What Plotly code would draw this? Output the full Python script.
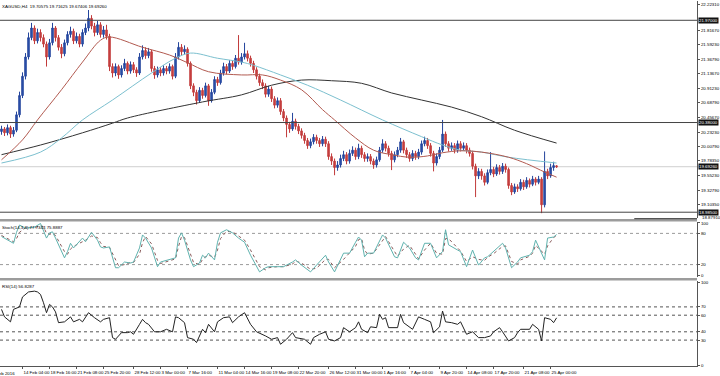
import plotly.graph_objects as go

title_text = "XAGUSD,H4  19.70575 19.71625 19.67406 19.69260"
stoch_title = "Stoch(14,3,3) 77.7344 75.8887"
rsi_title = "RSI(14) 56.8287"

bar_idx = list(range(186))
open_ = [20.24,20.28,20.22,20.30,20.20,20.26,20.50,20.80,21.10,21.40,21.70,21.85,21.65,21.78,21.70,21.60,21.40,21.62,21.85,21.70,
 21.55,21.45,21.62,21.75,21.80,21.65,21.72,21.60,21.78,21.85,22.00,21.88,21.78,21.90,21.75,21.82,21.72,21.25,21.15,21.25,
 21.12,21.22,21.30,21.18,21.28,21.20,21.15,21.40,21.50,21.42,21.48,21.22,21.12,21.20,21.15,21.22,21.18,21.25,21.10,21.40,
 21.55,21.48,21.52,21.30,20.95,20.85,20.72,20.88,20.80,20.95,20.72,20.85,21.05,21.00,21.15,21.25,21.18,21.30,21.25,21.38,
 21.32,21.40,21.45,21.38,21.30,21.20,21.10,21.00,20.95,20.82,20.90,20.75,20.65,20.72,20.55,20.45,20.35,20.28,20.40,20.32,
 20.25,20.18,20.10,20.02,20.08,20.15,20.10,20.05,20.12,20.05,19.85,19.78,19.68,19.72,19.82,19.88,19.78,19.90,19.95,19.85,
 19.98,19.88,19.82,19.85,19.78,19.72,19.80,19.95,20.05,19.98,19.90,19.80,19.88,19.95,20.08,19.95,19.88,19.82,19.90,19.85,
 19.92,20.05,20.10,20.02,19.90,19.75,19.85,19.95,20.20,20.05,19.98,20.02,19.95,20.05,19.98,20.02,19.95,19.90,19.70,19.55,
 19.62,19.55,19.45,19.60,19.65,19.58,19.68,19.62,19.70,19.65,19.40,19.30,19.38,19.35,19.45,19.38,19.48,19.42,19.50,19.45,
 19.50,19.10,19.62,19.55,19.68,19.70575]
close = [20.28,20.22,20.30,20.20,20.26,20.50,20.80,21.10,21.40,21.70,21.85,21.65,21.78,21.70,21.60,21.40,21.62,21.85,21.70,21.55,
 21.45,21.62,21.75,21.80,21.65,21.72,21.60,21.78,21.85,22.00,21.88,21.78,21.90,21.75,21.82,21.72,21.25,21.15,21.25,21.12,
 21.22,21.30,21.18,21.28,21.20,21.15,21.40,21.50,21.42,21.48,21.22,21.12,21.20,21.15,21.22,21.18,21.25,21.10,21.40,21.55,
 21.48,21.52,21.30,20.95,20.85,20.72,20.88,20.80,20.95,20.72,20.85,21.05,21.00,21.15,21.25,21.18,21.30,21.25,21.38,21.32,
 21.40,21.45,21.38,21.30,21.20,21.10,21.00,20.95,20.82,20.90,20.75,20.65,20.72,20.55,20.45,20.35,20.28,20.40,20.32,20.25,
 20.18,20.10,20.02,20.08,20.15,20.10,20.05,20.12,20.05,19.85,19.78,19.68,19.72,19.82,19.88,19.78,19.90,19.95,19.85,19.98,
 19.88,19.82,19.85,19.78,19.72,19.80,19.95,20.05,19.98,19.90,19.80,19.88,19.95,20.08,19.95,19.88,19.82,19.90,19.85,19.92,
 20.05,20.10,20.02,19.90,19.75,19.85,19.95,20.20,20.05,19.98,20.02,19.95,20.05,19.98,20.02,19.95,19.90,19.70,19.55,19.62,
 19.55,19.45,19.60,19.65,19.58,19.68,19.62,19.70,19.65,19.40,19.30,19.38,19.35,19.45,19.38,19.48,19.42,19.50,19.45,19.50,
 19.10,19.62,19.55,19.68,19.71,19.6926]
high = [20.33,20.31,20.35,20.33,20.31,20.55,20.86,21.16,21.46,21.78,21.93,21.89,21.84,21.83,21.75,21.64,21.68,21.93,21.88,21.74,
 21.60,21.67,21.80,21.87,21.84,21.78,21.76,21.83,21.92,22.13,22.05,21.93,21.96,21.94,21.88,21.90,21.76,21.30,21.30,21.28,
 21.27,21.37,21.33,21.33,21.32,21.24,21.46,21.58,21.55,21.54,21.51,21.26,21.25,21.24,21.27,21.26,21.30,21.28,21.46,21.63,
 21.60,21.58,21.55,21.33,20.99,20.89,20.93,20.92,21.00,20.98,20.90,21.10,21.09,21.20,21.31,21.29,21.35,21.34,21.43,21.74,
 21.46,21.62,21.50,21.42,21.34,21.24,21.14,21.05,20.99,20.95,20.94,20.79,20.77,20.76,20.59,20.49,20.39,20.53,20.44,20.36,
 20.29,20.22,20.14,20.13,20.20,20.19,20.14,20.17,20.16,20.09,19.90,19.82,19.78,19.88,19.94,19.92,19.96,20.01,19.99,20.05,
 20.02,19.92,19.90,19.89,19.82,19.85,20.00,20.12,20.09,20.02,19.94,19.93,20.00,20.14,20.11,19.99,19.92,19.95,19.94,19.97,
 20.10,20.16,20.14,20.06,19.94,19.90,20.00,20.42,20.24,20.09,20.07,20.06,20.10,20.09,20.07,20.06,19.99,19.94,19.74,19.67,
 19.66,19.59,19.65,19.92,19.69,19.73,19.72,19.75,19.74,19.68,19.44,19.43,19.42,19.50,19.49,19.53,19.51,19.55,19.53,19.55,
 19.53,19.93,19.66,19.74,19.77,19.71625]
low = [20.19,20.17,20.18,20.14,20.16,20.23,20.46,20.76,21.05,21.36,21.66,21.60,21.61,21.64,21.55,21.25,21.36,21.58,21.64,21.50,
 21.38,21.41,21.58,21.70,21.60,21.61,21.55,21.56,21.74,21.80,21.83,21.72,21.74,21.70,21.70,21.67,21.18,21.08,21.10,21.06,
 21.08,21.18,21.13,21.14,21.15,21.09,21.12,21.36,21.37,21.38,21.17,21.06,21.08,21.10,21.11,21.13,21.14,21.05,21.07,21.36,
 21.43,21.44,21.25,20.90,20.79,20.66,20.69,20.75,20.77,20.64,20.69,20.82,20.95,20.97,21.11,21.13,21.15,21.20,21.22,21.28,
 21.28,21.36,21.33,21.25,21.15,21.05,20.95,20.90,20.77,20.78,20.70,20.60,20.61,20.50,20.40,20.15,20.22,20.25,20.27,20.20,
 20.13,20.05,19.97,19.98,20.04,20.05,20.00,20.01,20.00,19.80,19.72,19.56,19.63,19.68,19.78,19.73,19.74,19.86,19.80,19.81,
 19.83,19.77,19.77,19.73,19.66,19.68,19.77,19.91,19.93,19.85,19.64,19.76,19.84,19.91,19.90,19.83,19.77,19.78,19.80,19.81,
 19.88,20.01,19.97,19.85,19.62,19.71,19.81,19.92,20.00,19.93,19.94,19.90,19.91,19.93,19.94,19.90,19.85,19.65,19.22,19.50,
 19.49,19.40,19.42,19.56,19.53,19.55,19.57,19.58,19.60,19.35,19.25,19.27,19.30,19.32,19.33,19.35,19.37,19.39,19.40,19.42,
 18.97,19.06,19.50,19.52,19.63,19.67406]

# moving averages (bar index, price)
ma_red_x = [0,7,12,20,27,33,36,47,56,62,69,80,87,93,100,107,111,118,124,130,136,142,147,153,160,169,175,181,185]
ma_red_y = [19.80,20.11,20.42,20.89,21.32,21.66,21.71,21.55,21.43,21.31,21.17,21.12,21.12,21.04,20.89,20.58,20.42,20.14,19.95,
 19.88,19.84,19.86,19.91,19.94,19.92,19.84,19.74,19.61,19.53]
ma_blue_x = [0,13,20,27,37,50,58,63,72,80,84,93,102,113,127,140,147,153,160,169,185]
ma_blue_y = [19.75,19.92,20.14,20.42,20.73,21.15,21.38,21.46,21.38,21.32,21.27,21.12,20.96,20.73,20.42,20.16,20.03,19.95,19.92,19.84,19.75]
ma_black_x = [0,13,27,37,42,67,80,90,100,110,120,130,140,150,160,171,185]
ma_black_y = [19.88,20.03,20.22,20.37,20.45,20.70,20.81,20.96,21.04,21.03,20.99,20.84,20.73,20.62,20.47,20.26,20.06]

hline_levels = [21.97, 20.38, 18.985]
hline_labels = ["21.97000", "20.38000", "18.98500"]
last_price = 19.6926
last_label = "19.69260"

price_ticks = [22.2231,21.8167,21.5923,21.3679,21.1367,20.9123,20.6879,20.4567,20.2323,20.0079,19.7835,19.5523,19.3279,19.1035]
price_ticktext = ["22.22310","21.81670","21.59230","21.36790","21.13670","20.91230","20.68790","20.45670","20.23230","20.00790",
 "19.78350","19.55230","19.32790","19.10350"]

stoch_x = [0,2,4,5,6,8,11,13,14,15,16,17,18,21,22,23,24,27,28,30,32,33,34,36,38,39,41,43,44,46,47,48,50,52,53,56,58,59,60,61,
 63,64,66,67,68,69,71,72,73,75,77,79,81,83,86,88,89,92,94,97,98,100,103,105,108,109,111,114,116,118,119,120,121,122,124,127,
 128,131,132,134,136,138,139,141,143,145,147,148,149,152,153,155,157,159,161,162,164,167,168,170,172,173,176,177,178,181,182,184,185]
stoch_main = [74,67,61,82,96,90,92,99,86,71,81,83,71,33,45,61,52,71,64,82,67,54,52,54,14,14,25,23,25,52,77,71,52,16,25,29,33,71,81,67,
 29,16,23,38,33,42,29,63,81,87,81,71,63,38,6,14,16,16,16,25,29,19,6,19,38,25,6,42,42,63,73,67,35,42,42,77,
 71,35,33,63,52,33,29,61,61,33,45,87,58,48,45,16,48,19,33,35,45,61,52,14,25,33,38,45,67,29,71,73,77.73]
stoch_signal = [76,70,64,70,82,91,91,95,93,80,78,80,76,45,40,50,55,64,67,75,72,62,55,53,28,18,20,24,24,40,62,74,60,28,22,27,31,55,74,72,
 42,24,20,30,35,38,34,48,70,84,83,75,67,48,16,10,14,16,16,21,27,23,11,13,30,30,14,30,42,55,68,70,48,40,42,65,
 74,45,36,50,57,40,31,48,61,42,40,70,70,52,46,26,35,30,28,34,41,55,56,26,21,29,36,42,57,40,56,72,75.89]
stoch_levels = [80, 20]

rsi_x = [0,1,3,4,6,7,9,11,12,13,14,15,16,17,18,19,21,23,24,26,27,28,29,31,33,34,36,37,38,40,42,43,44,46,47,48,49,51,53,55,57,58,
 59,61,62,64,65,67,68,69,71,72,74,76,77,79,81,83,85,88,90,92,93,95,97,98,101,103,104,106,108,109,111,113,114,116,118,119,120,
 122,123,125,126,127,128,129,132,133,134,137,139,141,143,144,146,147,148,150,152,153,155,157,159,161,163,164,166,167,169,171,
 172,173,176,177,179,180,181,183,184,185]
rsi_val = [67,58,52,67,70,82,88,89,88,85,75,63,73,70,64,51,52,58,52,55,52,57,63,57,52,55,57,33,31,39,39,40,37,49,55,51,49,40,40,43,40,58,
 57,51,33,31,27,43,39,49,40,52,57,58,51,58,63,49,40,35,31,33,25,31,39,33,31,25,33,37,40,31,29,33,45,40,45,52,43,
 39,46,45,61,55,57,45,45,61,51,43,58,55,52,39,46,65,52,51,49,52,37,40,33,33,35,40,45,40,29,33,
 39,43,43,49,43,29,57,55,51,56.83]
rsi_levels = [70, 60, 40, 30]

date_ticks = [0,7,16,25,34,44,53,62,72,81,90,99,109,118,127,136,146,155,164,174,183]
date_labels = ["12 Feb 2016","14 Feb 04:00","18 Feb 16:00","21 Feb 08:00","25 Feb 20:00","28 Feb 12:00","3 Mar 00:00",
 "7 Mar 16:00","11 Mar 04:00","14 Mar 16:00","19 Mar 08:00","22 Mar 20:00","26 Mar 12:00","31 Mar 00:00","1 Apr 16:00",
 "7 Apr 04:00","9 Apr 20:00","14 Apr 08:00","17 Apr 20:00","21 Apr 08:00","25 Apr 00:00"]

# ---------- figure ----------
H_TOP, H_PLOT = 1, 365
def py(ypx):
    return (H_TOP + H_PLOT - ypx) / H_PLOT

FONT = "Liberation Sans"
FS = 4.4
fig = go.Figure()

fig.add_trace(go.Candlestick(
    x=bar_idx, open=open_, high=high, low=low, close=close,
    increasing=dict(line=dict(color="#23449c", width=1), fillcolor="#2d55b0"),
    decreasing=dict(line=dict(color="#c23a3a", width=1), fillcolor="#c84444"),
    whiskerwidth=0, showlegend=False, hoverinfo="skip", xaxis="x", yaxis="y"))
fig.add_trace(go.Scatter(x=ma_black_x, y=ma_black_y, mode="lines", line=dict(color="#333333", width=1, shape="spline"),
                         xaxis="x", yaxis="y", showlegend=False, hoverinfo="skip"))
fig.add_trace(go.Scatter(x=ma_blue_x, y=ma_blue_y, mode="lines", line=dict(color="#7cc0cf", width=1, shape="spline"),
                         xaxis="x", yaxis="y", showlegend=False, hoverinfo="skip"))
fig.add_trace(go.Scatter(x=ma_red_x, y=ma_red_y, mode="lines", line=dict(color="#b25a50", width=1, shape="spline"),
                         xaxis="x", yaxis="y", showlegend=False, hoverinfo="skip"))

fig.add_trace(go.Scatter(x=stoch_x, y=stoch_signal, mode="lines", line=dict(color="#8a5c5c", width=1, dash="dot"),
                         xaxis="x2", yaxis="y2", showlegend=False, hoverinfo="skip"))
fig.add_trace(go.Scatter(x=stoch_x, y=stoch_main, mode="lines", line=dict(color="#5fb2ae", width=1),
                         xaxis="x2", yaxis="y2", showlegend=False, hoverinfo="skip"))
fig.add_trace(go.Scatter(x=rsi_x, y=rsi_val, mode="lines", line=dict(color="#222222", width=1),
                         xaxis="x3", yaxis="y3", showlegend=False, hoverinfo="skip"))

xr = [-0.5, 231.8]
axfont = dict(family=FONT, size=FS, color="#000")
common_y = dict(side="right", showgrid=False, zeroline=False, showline=True, linecolor="#555", linewidth=1,
                ticks="outside", ticklen=2, tickcolor="#555", tickfont=axfont, fixedrange=True, automargin=False)
fig.update_layout(
    width=720, height=376, margin=dict(l=0, r=23, t=H_TOP, b=10, autoexpand=False),
    paper_bgcolor="white", plot_bgcolor="white", showlegend=False,
    xaxis=dict(domain=[0, 1], range=xr, anchor="y", showticklabels=False, showgrid=False, zeroline=False,
               rangeslider=dict(visible=False), ticks=""),
    xaxis2=dict(domain=[0, 1], range=xr, anchor="y2", matches="x", showticklabels=False, showgrid=False,
                zeroline=False, ticks=""),
    xaxis3=dict(domain=[0, 1], range=xr, anchor="y3", matches="x", showgrid=False, zeroline=False,
                showline=True, linecolor="#555", linewidth=1, tickvals=date_ticks[1:], ticktext=date_labels[1:],
                ticks="outside", ticklen=2, tickcolor="#555", tickfont=axfont, ticklabelposition="outside right",
                tickangle=0, automargin=False, ticklabelstandoff=2),
    yaxis=dict(domain=[py(218), 1], range=[18.895, 22.270], tickvals=price_ticks, ticktext=price_ticktext,
               anchor="x", **common_y),
    yaxis2=dict(domain=[py(277), py(222)], range=[-3.85, 101.9], tickvals=[100, 80, 20, 0],
                ticktext=["100", "80", "20", "0"], anchor="x2", **common_y),
    yaxis3=dict(domain=[0, py(281)], range=[-1.2, 101.2], tickvals=[100, 70, 60, 40, 30, 0],
                ticktext=["100", "70", "60", "40", "30", "0"], anchor="x3", **common_y),
)

shapes = []
for lv in hline_levels:
    shapes.append(dict(type="line", xref="x domain", yref="y", x0=0, x1=1, y0=lv, y1=lv,
                       line=dict(color="#444444", width=1)))
shapes.append(dict(type="line", xref="x domain", yref="y", x0=0, x1=1, y0=last_price, y1=last_price,
                   line=dict(color="#cfcfcf", width=1), layer="below"))
for lv in stoch_levels:
    shapes.append(dict(type="line", xref="x2 domain", yref="y2", x0=0, x1=1, y0=lv, y1=lv,
                       line=dict(color="#9a9a9a", width=1, dash="dot"), layer="below"))
for lv in rsi_levels:
    shapes.append(dict(type="line", xref="x3 domain", yref="y3", x0=0, x1=1, y0=lv, y1=lv,
                       line=dict(color="#555555", width=1, dash="dot"), layer="below"))
# panel separators
shapes.append(dict(type="rect", xref="paper", yref="paper", x0=0, x1=1, y0=py(221.6), y1=py(219),
                   fillcolor="#9c9c9c", line=dict(width=0)))
shapes.append(dict(type="rect", xref="paper", yref="paper", x0=0, x1=1, y0=py(280.6), y1=py(278),
                   fillcolor="#9c9c9c", line=dict(width=0)))
shapes.append(dict(type="line", xref="paper", yref="paper", x0=0.91, x1=1, y0=py(218.6), y1=py(218.6),
                   line=dict(color="#555", width=1.2)))
fig.update_layout(shapes=shapes)

ann = [
    dict(x=0, y=1, xref="paper", yref="paper", xanchor="left", yanchor="top", text=title_text, showarrow=False,
         font=dict(family=FONT, size=FS, color="#000"), yshift=-1),
    dict(x=0, y=py(223), xref="paper", yref="paper", xanchor="left", yanchor="top", text=stoch_title, showarrow=False,
         font=dict(family=FONT, size=FS, color="#000")),
    dict(x=0, y=py(282), xref="paper", yref="paper", xanchor="left", yanchor="top", text=rsi_title, showarrow=False,
         font=dict(family=FONT, size=FS, color="#000")),
    dict(x=1, y=py(217.8), xref="paper", yref="paper", xanchor="left", yanchor="middle", text="18.87910", showarrow=False,
         font=dict(family=FONT, size=FS, color="#000"), xshift=4, borderpad=0),
    # first date label, partly cut at the left edge as in the reference
    dict(x=date_ticks[0], y=0, xref="x3", yref="paper", xanchor="right", yanchor="top", text=date_labels[0],
         showarrow=False, font=axfont, xshift=14, yshift=-4, borderpad=0),
]
for lv, lb in zip(hline_levels + [last_price], hline_labels + [last_label]):
    ann.append(dict(x=1, y=lv, xref="paper", yref="y", xanchor="left", yanchor="middle", text=lb, showarrow=False,
                    bgcolor="#111111", font=dict(family=FONT, size=FS, color="#ffffff"), borderpad=0, xshift=1))
fig.update_layout(annotations=ann)

fig.write_html("out.html", config={"displayModeBar": False, "staticPlot": True},
               post_script="document.body.style.margin='0';document.body.style.padding='0';"
                           "document.documentElement.style.overflow='hidden';window.dispatchEvent(new Event('resize'));")
